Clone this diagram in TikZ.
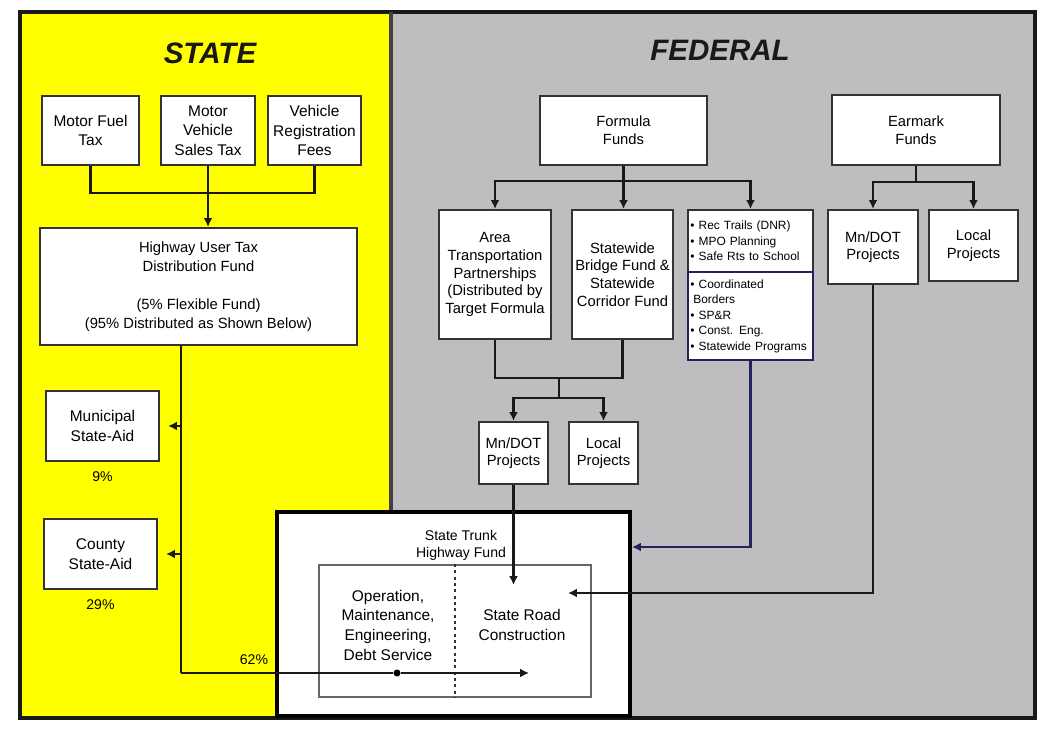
\documentclass[tikz,border=0pt]{standalone}
\usepackage{fontspec}
\setmainfont{Liberation Sans}
\usepackage{xcolor}
\usetikzlibrary{arrows.meta,positioning}

\definecolor{stateyellow}{RGB}{255,255,0}
\definecolor{fedgray}{RGB}{190,190,192}
\definecolor{progblue}{RGB}{34,34,96}

\newlength\pxu
\setlength\pxu{0.025cm}

\begin{document}
\begin{tikzpicture}[
  x=\pxu, y=-\pxu,
  box/.style={draw=black!80, line width=1.5pt, fill=white, align=center, inner sep=1pt,
              font=\fontsize{10.5}{12.5}\selectfont},
  statebox/.style={box, font=\fontsize{11}{14}\selectfont},
  listbox/.style={box, align=left, text width=3cm, inner sep=2pt,
                  font=\fontsize{8.5}{11}\selectfont},
  title/.style={font=\fontsize{21}{24}\selectfont\bfseries\itshape, text=black!90},
  pct/.style={font=\fontsize{10}{12}\selectfont},
  line/.style={draw=black!90, line width=1.6pt},
  arrow/.style={line, -{Latex[length=2.2mm, width=2.2mm]}},
  dot/.style={circle, fill=black, inner sep=0pt, minimum size=5pt}
]
\fill[white] (0,0) rectangle (1051,729);
\fill[stateyellow] (20,12) rectangle (391,718);
\fill[fedgray] (391,12) rectangle (1035,718);
\draw[black!90, line width=2.2pt] (20,12) rectangle (1035,718);
\draw[black!75, line width=2.2pt] (391,12) -- (391,512);

\node[title] (statetitle) at (210,53) {STATE};
\node[title] (fedtitle) at (720,50) {FEDERAL};

\node[statebox, minimum width=97\pxu, minimum height=69\pxu] (mft) at (90.5,130.5) {Motor Fuel\\Tax};
\node[statebox, minimum width=94\pxu, minimum height=69\pxu] (mvst) at (208,130.5) {Motor\\Vehicle\\Sales Tax};
\node[statebox, minimum width=93\pxu, minimum height=69\pxu] (vrf) at (314.5,130.5) {Vehicle\\Registration\\Fees};
\node[box, minimum width=317\pxu, minimum height=117\pxu, font=\fontsize{10.5}{13.5}\selectfont] (hutdf) at (198.5,286.5)
  {Highway User Tax\\Distribution Fund\\[13.5pt](5\% Flexible Fund)\\(95\% Distributed as Shown Below)};
\node[statebox, minimum width=113\pxu, minimum height=70\pxu] (msa) at (102.5,426) {Municipal\\State-Aid};
\node[statebox, minimum width=113\pxu, minimum height=70\pxu] (csa) at (100.5,554) {County\\State-Aid};
\node[pct, below=3pt of msa] (msapct) {9\%};
\node[pct, below=3pt of csa] (csapct) {29\%};

\node[box, minimum width=353\pxu, minimum height=204\pxu, draw=black, line width=2.4pt] (sthf) at (453.5,614) {};
\node[font=\fontsize{10}{12}\selectfont, align=center] (sthftitle) at (461,545) {State Trunk\\Highway Fund};
\node[box, minimum width=272\pxu, minimum height=132\pxu, draw=black!60, line width=1.2pt] (inner) at (455,631) {};
\node[font=\fontsize{11}{14}\selectfont, align=center] (opm) at (388,625)
  {Operation,\\Maintenance,\\Engineering,\\Debt Service};
\node[font=\fontsize{11}{14}\selectfont, align=center] (src) at (522,625) {State Road\\Construction};
\draw[black!80, line width=1.6pt, dash pattern=on 2pt off 2.5pt] (inner.north) -- (inner.south);
\node[pct] (split62) at (254,660) {62\%};

\node[box, minimum width=167\pxu, minimum height=69\pxu] (ff) at (623.5,130.5) {Formula\\Funds};
\node[box, minimum width=112\pxu, minimum height=129\pxu] (atp) at (495,274.5)
  {Area\\Transportation\\Partnerships\\(Distributed by\\Target Formula};
\node[box, minimum width=101\pxu, minimum height=129\pxu] (sbf) at (622.5,274.5) {Statewide\\Bridge Fund \&\\Statewide\\Corridor Fund};
\node[listbox, minimum width=125\pxu, minimum height=62\pxu] (misc) at (750.5,241)
  {\textbullet\ Rec Trails (DNR)\\\textbullet\ MPO Planning\\\textbullet\ Safe Rts to School};
\node[listbox, minimum width=125\pxu, minimum height=88\pxu, draw=progblue] (fedprog) at (750.5,316)
  {\textbullet\ Coordinated\\\hspace*{2pt}Borders\\\textbullet\ SP\&R\\\textbullet\ Const. Eng.\\\textbullet\ Statewide Programs};
\node[box, minimum width=69\pxu, minimum height=62\pxu] (mndot1) at (513.5,453) {Mn/DOT\\Projects};
\node[box, minimum width=69\pxu, minimum height=62\pxu] (local1) at (603.5,453) {Local\\Projects};

\node[box, minimum width=168\pxu, minimum height=70\pxu] (ef) at (916,130) {Earmark\\Funds};
\node[box, minimum width=90\pxu, minimum height=74\pxu] (mndot2) at (873,247) {Mn/DOT\\Projects};
\node[box, minimum width=89\pxu, minimum height=71\pxu] (local2) at (973.5,245.5) {Local\\Projects};

\coordinate (trunk) at (181,673);
\coordinate (roadend) at (529,673);
\coordinate (atpjoin) at (559,378);
\coordinate (fedin) at (632,547);
\coordinate (mndotin) at (513.5,585);
\coordinate (earin) at (568,593);

\draw[line] (mft.south) -- ++(0,27) -| (vrf.south);
\draw[arrow] (mvst.south) -- (mvst.south |- hutdf.north);
\draw[line] (hutdf.south -| trunk) -- (trunk);
\draw[arrow] (msa.east -| trunk) -- ([xshift=2mm]msa.east);
\draw[arrow] (csa.east -| trunk) -- ([xshift=2mm]csa.east);
\node[dot] (opmdot) at (397,673) {};
\draw[arrow] (trunk) -- (opmdot) -- (roadend);

\draw[arrow] (ff.south) -- ++(0,15) -| (atp.north);
\draw[arrow] (ff.south) -- (ff.south |- sbf.north);
\draw[arrow] (ff.south) -- ++(0,15) -| (misc.north);
\draw[line] (atp.south) |- (atpjoin) -| (sbf.south);
\draw[arrow] (atpjoin) -- ++(0,20) -| (mndot1.north);
\draw[arrow] (atpjoin) -- ++(0,20) -| (local1.north);
\draw[arrow] (mndot1.south) -- (mndotin);
\draw[arrow, draw=progblue] (fedprog.south) |- (fedin);

\draw[arrow] (ef.south) -- ++(0,16) -| (mndot2.north);
\draw[arrow] (ef.south) -- ++(0,16) -| (local2.north);
\draw[arrow] (mndot2.south) |- (earin);
\end{tikzpicture}
\end{document}
